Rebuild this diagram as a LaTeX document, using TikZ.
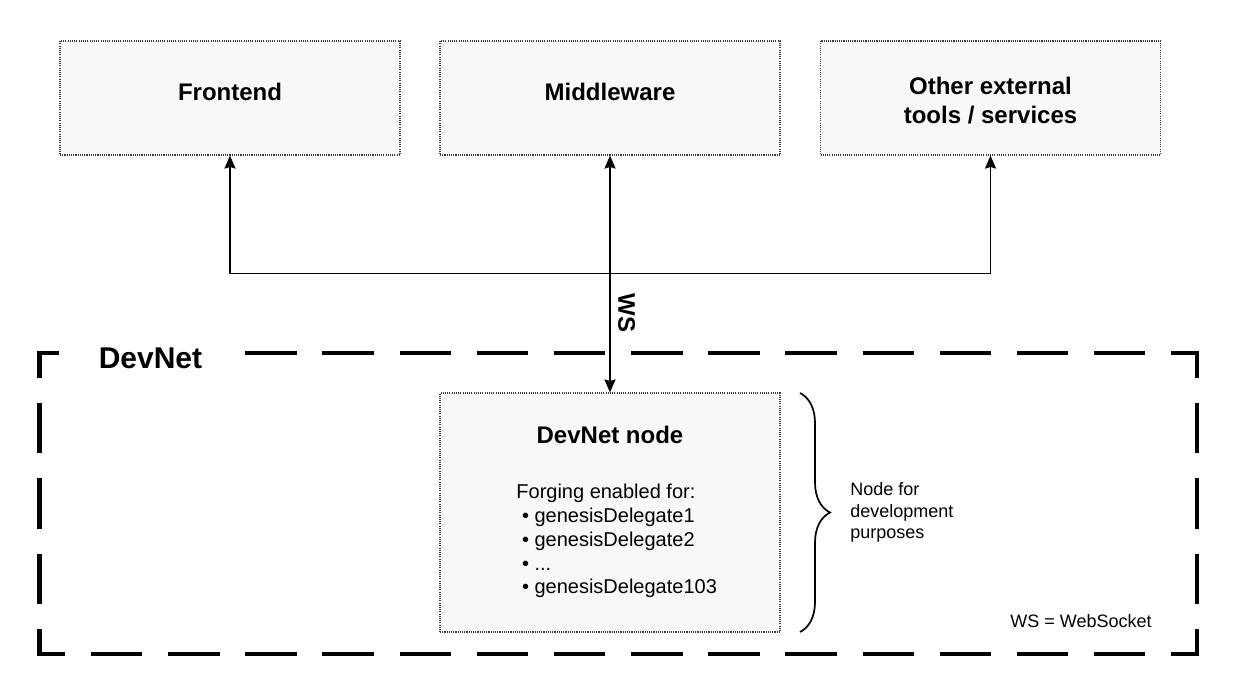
\documentclass[tikz,border=0pt]{standalone}
\usepackage{fontspec}
\setmainfont{Liberation Sans}
\usetikzlibrary{arrows.meta,decorations.pathreplacing}
\definecolor{boxfill}{HTML}{F7F8FA}
\definecolor{boxline}{HTML}{3A3A3A}
\begin{document}
\begin{tikzpicture}[x=0.5pt,y=-0.5pt,
  box/.style={draw=boxline, fill=boxfill, line width=0.55pt, dash pattern=on 0.55pt off 0.55pt,
    minimum width=170pt, minimum height=57pt, inner sep=0pt},
  conn/.style={line width=0.9pt, black, >={Stealth[length=6.5pt,width=5.5pt,inset=0.8pt]}},
  hdr/.style={font=\bfseries\fontsize{12}{14.5}\selectfont, inner sep=0pt, align=center},
  body/.style={font=\fontsize{10}{11.9}\selectfont, inner sep=0pt, align=left},
  note/.style={font=\fontsize{9}{10.9}\selectfont, inner sep=0pt, align=left},
  hside/.style={line width=2.25pt, dash pattern=on 25.72pt off 12.86pt, dash phase=11.735pt},
  vside/.style={line width=2.25pt, dash pattern=on 25.08pt off 12.54pt, dash phase=11.415pt},
  bracestyle/.style={line width=0.85pt, decorate, decoration={brace, amplitude=15pt}}
]
\useasboundingbox (0,0) rectangle (1240,693);

% DevNet container
\coordinate (cnw) at (39.5,353);
\coordinate (cne) at (1197,353);
\coordinate (csw) at (39.5,654);
\coordinate (cse) at (1197,654);
\draw[hside] ([xshift=-1.125pt]cnw) -- ([xshift=1.125pt]cne);
\draw[hside] ([xshift=-1.125pt]csw) -- ([xshift=1.125pt]cse);
\draw[vside] ([yshift=1.125pt]cnw) -- ([yshift=-1.125pt]csw);
\draw[vside] ([yshift=1.125pt]cne) -- ([yshift=-1.125pt]cse);
\node[fill=white, inner xsep=20pt, inner ysep=6pt, font=\bfseries\fontsize{15}{17}\selectfont, anchor=base]
  (dnlabel) at (150.5,368) {DevNet};

% top boxes
\node[box] (fe) at (230,98) {};
\node[box] (mw) at (610,98) {};
\node[box] (ot) at (990.5,98) {};
\node[hdr, anchor=base] (fet) at (230,100) {Frontend};
\node[hdr, anchor=base] (mwt) at (610,100) {Middleware};
\node[hdr] (ott) at (990.5,100.5) {Other external\\tools / services};

% DevNet node
\node[box, minimum height=119.5pt] (dn) at (610,512.5) {};
\node[hdr, anchor=base] (dnt) at (610,443.3) {DevNet node};
\node[body, anchor=north west] (dnl) at (516,483.7)
  {Forging enabled for:\\
   \hspace*{2.8pt}• genesisDelegate1\\
   \hspace*{2.8pt}• genesisDelegate2\\
   \hspace*{2.8pt}• ...\\
   \hspace*{2.8pt}• genesisDelegate103};

% connectors
\coordinate (j) at (610,273.5);
\draw[conn, <->] (mw.south) -- (dn.north);
\draw[conn, ->] (j) -| (fe.south);
\draw[conn, ->] (j) -| (ot.south);
\node[hdr, rotate=-90] (ws) at (626.7,313) {WS};

% brace and notes
\coordinate (bt) at (800,393);
\coordinate (bb) at (800,632);
\draw[bracestyle] (bt) -- (bb);
\node[note, anchor=north west] (nfd) at (850,481.8) {Node for\\development\\purposes};
\node[note, anchor=base west] (wsn) at (1010,627) {WS = WebSocket};
\end{tikzpicture}
\end{document}
